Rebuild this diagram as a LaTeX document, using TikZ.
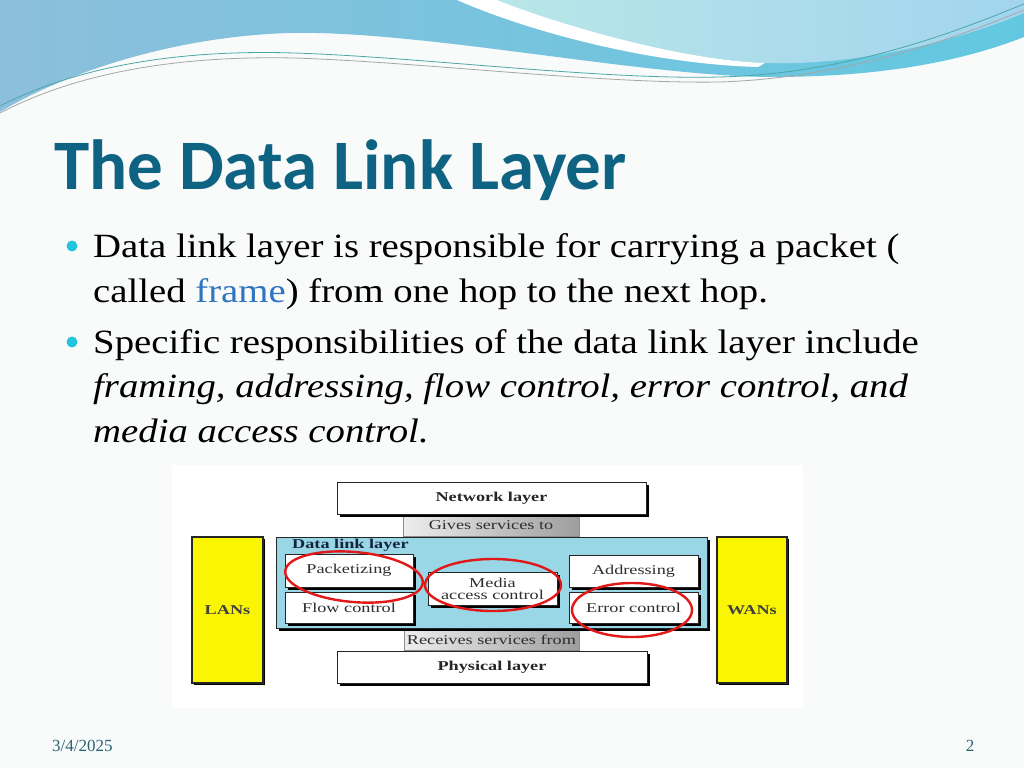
\documentclass[tikz,border=0pt]{standalone}
\usepackage{fontspec}
\setmainfont{Liberation Serif}
\newfontfamily\titlefont{Carlito}
\newfontfamily\bodyfont[FakeStretch=1.14]{Liberation Serif}
\newfontfamily\diagfont[FakeStretch=1.35]{Liberation Serif}
\usetikzlibrary{shadows}
\definecolor{slidebg}{HTML}{F9FAFA}
\definecolor{titleblue}{HTML}{0E6282}
\definecolor{bulletcyan}{HTML}{22C6DC}
\definecolor{framecol}{HTML}{2F75C0}
\definecolor{footcol}{HTML}{2A6272}
\definecolor{dllblue}{HTML}{9AD7E6}
\definecolor{lanyellow}{HTML}{FAF500}
\definecolor{ringred}{HTML}{E01818}
\definecolor{wavea}{HTML}{8CBFDC}
\definecolor{waveb}{HTML}{62C8E0}
\definecolor{lighta}{HTML}{B8E6E8}
\definecolor{lightb}{HTML}{A2D4EE}
\definecolor{labelgray}{HTML}{2E2E2E}
\definecolor{dllnavy}{HTML}{14243C}
\tikzset{
  bodytext/.style={anchor=base west,inner sep=0pt,font=\bodyfont\fontsize{34}{40}\selectfont},
  bulletdot/.style={circle,fill=bulletcyan,inner sep=0pt,minimum size=11pt},
  whitebox/.style={draw=black!85,line width=0.7pt,fill=white,inner sep=0pt,
    drop shadow={shadow xshift=2.5pt,shadow yshift=-2.5pt,fill=black,opacity=1},
    font=\diagfont\fontsize{13.5}{15}\selectfont,text=labelgray},
  graybar/.style={draw=black!45,line width=0.4pt,inner sep=0pt,
    left color=black!7,right color=black!38,
    font=\diagfont\fontsize{13.5}{15}\selectfont,text=labelgray},
  yellowbox/.style={draw=black!85,line width=1.2pt,fill=lanyellow,inner sep=0pt,
    drop shadow={shadow xshift=1.5pt,shadow yshift=-1.5pt,fill=black,opacity=1},
    font=\diagfont\bfseries\fontsize{13.5}{15}\selectfont,text=black!75},
  ring/.style={draw=ringred,line width=2.4pt},
  wavethin/.style={line width=0.8pt}
}
\begin{document}
\begin{tikzpicture}[x=1pt,y=-1pt]
\useasboundingbox (0,0) rectangle (1024,768);
\fill[slidebg] (0,0) rectangle (1024,768);
% header waves
\shade[left color=wavea,right color=waveb]
  (0,0) -- (1024,0) -- (1024,37)
  .. controls (960,62) and (880,77) .. (770,77)
  .. controls (640,76) and (420,30) .. (290,33)
  .. controls (180,36) and (70,70) .. (0,112) -- cycle;
\shade[left color=lighta,right color=lightb]
  (497,0) .. controls (560,25) and (680,60) .. (765,63)
  .. controls (860,66) and (960,40) .. (1024,13) -- (1024,0) -- cycle;
\fill[white]
  (457,0) .. controls (530,32) and (650,64) .. (758,67)
  -- (765,63) .. controls (680,60) and (560,25) .. (497,0) -- cycle;
\draw[wavethin,draw=teal!70]
  (0,106) .. controls (90,60) and (200,50) .. (294,53)
  .. controls (420,57) and (600,80) .. (719,77)
  .. controls (850,74) and (960,30) .. (1024,4);
\draw[wavethin,draw=black!35]
  (0,113) .. controls (90,66) and (200,56) .. (294,58)
  .. controls (420,62) and (600,84) .. (719,82)
  .. controls (850,78) and (960,36) .. (1024,10);
% title
\node[anchor=base west,inner sep=0pt,text=titleblue,font=\titlefont\bfseries\fontsize{71}{80}\selectfont] (title) at (54,189) {The Data Link Layer};
% bullets
\node[bulletdot] (b1) at (72,246) {};
\node[bodytext] (l1) at (93,257) {Data link layer is responsible for carrying a packet (};
\node[bodytext] (l2) at (93,302) {called \textcolor{framecol}{frame}) from one hop to the next hop.};
\node[bulletdot] (b2) at (72,342) {};
\node[bodytext] (l3) at (93,353) {Specific responsibilities of the data link layer include};
\node[bodytext] (l4) at (93,397) {\itshape framing, addressing, flow control, error control, and};
\node[bodytext] (l5) at (93,442) {\itshape media access control.};
% diagram
\fill[white] (172,465) rectangle (803,708);
\node[graybar,minimum width=176pt,minimum height=21pt] (gives) at (491,525.5) {Gives services to};
\node[graybar,minimum width=175pt,minimum height=21pt] (recv) at (491.5,639.5) {Receives services from};
\node[whitebox,minimum width=309pt,minimum height=32pt,font=\diagfont\bfseries\fontsize{13.5}{15}\selectfont,text=black!85] (net) at (491.5,498) {Network layer};
\node[whitebox,minimum width=310pt,minimum height=32pt,font=\diagfont\bfseries\fontsize{13.5}{15}\selectfont,text=black!85] (phys) at (492,667) {Physical layer};
\node[whitebox,fill=dllblue,minimum width=431pt,minimum height=91pt] (dll) at (491.5,582.5) {};
\node[anchor=base west,inner sep=0pt,font=\diagfont\bfseries\fontsize{13.5}{15}\selectfont,text=dllnavy] (dlllabel) at (292,548) {Data link layer};
\node[whitebox,minimum width=128pt,minimum height=33pt] (pack) at (349,570.5) {Packetizing};
\node[whitebox,minimum width=128pt,minimum height=31pt] (flow) at (349,607.5) {Flow control};
\node[whitebox,minimum width=129pt,minimum height=33pt,align=center] (media) at (492.5,588.5) {Media\\[-3pt]access control};
\node[whitebox,minimum width=129pt,minimum height=32pt] (addr) at (633.5,571) {Addressing};
\node[whitebox,minimum width=129pt,minimum height=31pt] (err) at (633.5,607.5) {Error control};
\node[yellowbox,minimum width=71pt,minimum height=146pt] (lans) at (227.5,610) {LANs};
\node[yellowbox,minimum width=70pt,minimum height=146pt] (wans) at (752,610) {WANs};
% red rings
\draw[ring,rotate around={-5:(354,577)}] (354,577) ellipse [x radius=69, y radius=25];
\draw[ring] (493,585) ellipse [x radius=68, y radius=26];
\draw[ring] (632,610) ellipse [x radius=60, y radius=27];
% footer
\node[anchor=base west,inner sep=0pt,text=footcol,font=\fontsize{17}{20}\selectfont] (date) at (52,751) {3/4/2025};
\node[anchor=base,inner sep=0pt,text=footcol,font=\fontsize{17}{20}\selectfont] (pagenum) at (970,751) {2};
\end{tikzpicture}
\end{document}
